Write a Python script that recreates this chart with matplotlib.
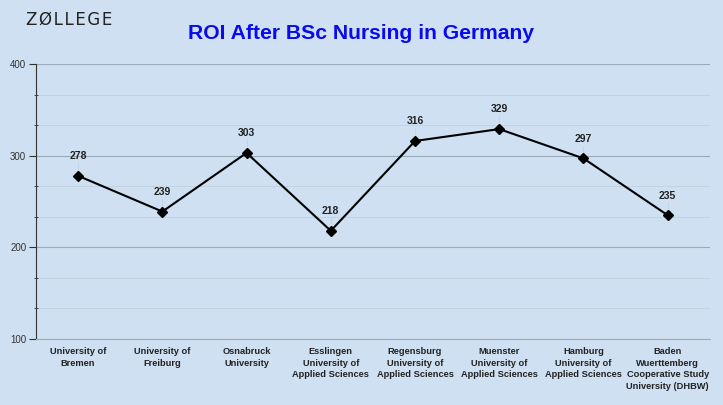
import matplotlib.pyplot as plt
from matplotlib.ticker import MultipleLocator

universities = [
    "University of\nBremen",
    "University of\nFreiburg",
    "Osnabruck\nUniversity",
    "Esslingen\nUniversity of\nApplied Sciences",
    "Regensburg\nUniversity of\nApplied Sciences",
    "Muenster\nUniversity of\nApplied Sciences",
    "Hamburg\nUniversity of\nApplied Sciences",
    "Baden\nWuerttemberg\nCooperative Study\nUniversity (DHBW)",
]
roi = [278, 239, 303, 218, 316, 329, 297, 235]

bg = "#cfe0f2"
plt.rcParams['font.family'] = ['Liberation Sans', 'DejaVu Sans']

fig = plt.figure(figsize=(7.23, 4.05), dpi=100, facecolor=bg)
ax = fig.add_axes([0.0498, 0.163, 0.932, 0.679], facecolor=bg)

x = list(range(len(roi)))
ax.plot(x, roi, color="black", lw=1.5, marker="D", ms=5.5, zorder=3)
for xi, v in zip(x, roi):
    ax.plot([xi, xi], [v, v + 14], color="#c4d2e0", lw=0.6, zorder=1)
    ax.text(xi, v + 16, str(v), ha="center", va="bottom", fontsize=7.5,
            fontweight="bold", color="#222222")

ax.set_xlim(-0.5, 7.5)
ax.set_ylim(100, 400)
ax.set_xticks(x)
ax.set_xticklabels(universities, fontsize=6.7, fontweight="bold", color="#222222",
                   linespacing=1.35)
ax.tick_params(axis="x", length=0, pad=6)
ax.yaxis.set_major_locator(MultipleLocator(100))
ax.yaxis.set_minor_locator(MultipleLocator(100 / 3))
ax.tick_params(axis="y", which="major", length=5, labelsize=7, colors="#333333", pad=2)
ax.tick_params(axis="y", which="minor", length=3, direction="inout", color="#333333")
ax.grid(axis="y", which="major", color="#9aaabb", lw=0.8)
ax.grid(axis="y", which="minor", color="#c2d0de", lw=0.6)
for s in ["top", "right"]:
    ax.spines[s].set_visible(False)
ax.spines["bottom"].set_color("#9aaabb")
ax.spines["left"].set_color("#333333")

fig.text(0.5, 0.918, "ROI After BSc Nursing in Germany", ha="center", va="center",
         fontsize=15.2, fontweight="bold", color="#0a0aee")
fig.text(0.036, 0.952, "Z\u200aØ\u200aL\u200aL\u200aE\u200aG\u200aE", ha="left",
         va="center", fontsize=12, color="#222222", family="DejaVu Sans")

fig.savefig("out.png", dpi=100, facecolor=bg)
